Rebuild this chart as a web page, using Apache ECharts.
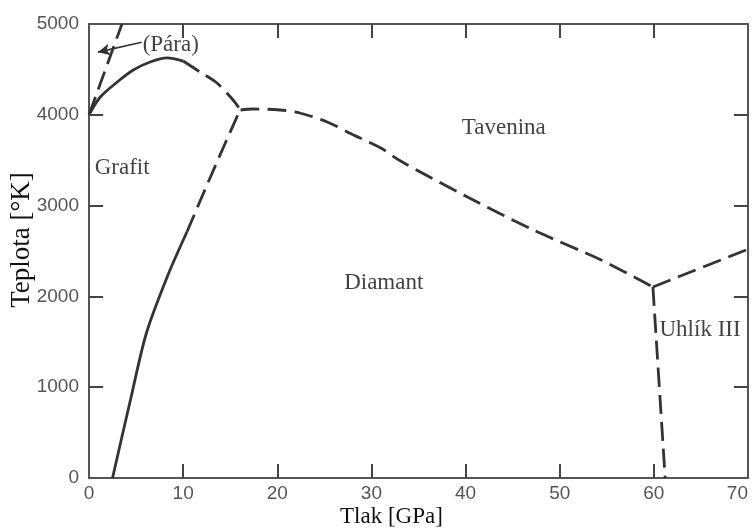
<!DOCTYPE html>
<html>
<head>
<meta charset="utf-8">
<script src="https://cdn.jsdelivr.net/npm/echarts@6/dist/echarts.min.js"></script>
<style>
  html, body { margin: 0; padding: 0; background: #fff; }
  #chart { width: 753px; height: 530px; }
</style>
</head>
<body>
<div id="chart"></div>
<script>
// Phase boundaries of carbon: [pressure GPa, temperature K]
const graphiteMeltSolid = [[0, 4000], [1.2, 4196], [3.0, 4361], [4.7, 4493], [6.5, 4581], [8.3, 4626], [10.0, 4592]];
const graphiteMeltDashed = [[10.0, 4592], [11.8, 4471], [13.6, 4350], [15.3, 4163], [16.1, 4053]];
const vaporBoundary = [[0, 4000], [3.5, 5000]];
const graphiteDiamondSolid = [[2.5, 0], [4.4, 859], [6.1, 1597], [8.3, 2214], [10.4, 2709]];
const graphiteDiamondDashed = [[10.4, 2709], [12.9, 3315], [15.9, 4020], [16.1, 4053]];
const diamondMelt = [[16.1, 4053], [17.4, 4064], [20.3, 4053], [22.4, 4020], [25.3, 3921], [28.1, 3778],
  [31.0, 3634], [33.1, 3491], [40.2, 3095], [47.2, 2731], [54.4, 2401], [59.9, 2104]];
const carbonIIIMelt = [[59.9, 2104], [70, 2520]];
const diamondCarbonIII = [[59.9, 2104], [61.2, 0]];

// Phase names and the point each one is anchored at (left edge, vertical centre)
const phaseNames = ['Grafit', 'Tavenina', 'Diamant', 'Uhlík III', '(Pára)'];
const phaseAnchors = [[0.6, 3420], [39.6, 3850], [27.1, 2150], [60.6, 1630], [5.7, 4770]];

// Arrow from the vapour label to its boundary
const vaporArrow = [[5.6, 4800], [0.95, 4690]];

// Axis ranges and the inner tick marks on all four sides of the frame
const xRange = [0, 70];
const yRange = [0, 5000];
const xTickValues = [10, 20, 30, 40, 50, 60];
const yTickValues = [1000, 2000, 3000, 4000];

const ink = '#333';
const frame = '#555';
const serif = '"Liberation Serif", "DejaVu Serif", serif';
const sans = '"Liberation Sans", Arial, sans-serif';
// inward tick length, in axis units (about 14 px each way)
const X_TICK = 1.5;
const Y_TICK = 155;

function boundary(data, dashed) {
  return {
    type: 'line',
    data: data,
    smooth: 0.3,
    showSymbol: false,
    symbol: 'none',
    silent: true,
    lineStyle: { color: ink, width: 2.8, type: dashed ? [19, 8] : 'solid' },
    z: 3
  };
}

// Tick segments pointing from each side of the frame into the plot
const annotationLines = [];
xTickValues.forEach(v => {
  annotationLines.push([{ coord: [v, yRange[0]] }, { coord: [v, yRange[0] + Y_TICK] }]);
  annotationLines.push([{ coord: [v, yRange[1]] }, { coord: [v, yRange[1] - Y_TICK] }]);
});
yTickValues.forEach(v => {
  annotationLines.push([{ coord: [xRange[0], v] }, { coord: [xRange[0] + X_TICK, v] }]);
  annotationLines.push([{ coord: [xRange[1], v] }, { coord: [xRange[1] - X_TICK, v] }]);
});
// the curved pointer next to "(Pára)"
annotationLines.push([
  { coord: vaporArrow[0], symbol: 'none', lineStyle: { color: ink, width: 1.6, curveness: -0.2 } },
  { coord: vaporArrow[1], symbol: 'arrow', symbolSize: [9, 12] }
]);

const chart = echarts.init(document.getElementById('chart'), null, { renderer: 'canvas' });
chart.setOption({
  animation: false,
  backgroundColor: '#fff',
  grid: { left: 89, right: 5, top: 24, bottom: 52, containLabel: false, outerBoundsMode: 'none', show: false },
  title: {
    text: 'Tlak [GPa]',
    left: 340,
    top: 505,
    padding: 0,
    textStyle: { fontFamily: serif, fontSize: 23, fontWeight: 'normal', color: '#111' }
  },
  xAxis: [{
    type: 'value', position: 'bottom',
    min: xRange[0], max: xRange[1], interval: 10,
    axisLine: { show: true, onZero: false, lineStyle: { color: frame, width: 2 } },
    axisTick: { show: false },
    axisLabel: { color: '#555', fontFamily: sans, fontSize: 19, margin: 6, alignMaxLabel: 'right' },
    splitLine: { show: false }
  }, {
    type: 'value', position: 'top',
    min: xRange[0], max: xRange[1], interval: 10,
    axisLine: { show: true, onZero: false, lineStyle: { color: frame, width: 2 } },
    axisTick: { show: false },
    axisLabel: { show: false },
    splitLine: { show: false }
  }],
  yAxis: [{
    type: 'value', position: 'left',
    min: yRange[0], max: yRange[1], interval: 1000,
    name: 'Teplota [°K]',
    nameLocation: 'middle',
    nameGap: 54,
    nameRotate: 90,
    nameMoveOverlap: false,
    nameTextStyle: { fontFamily: serif, fontSize: 27, color: '#111', padding: [0, 0, 0, 22] },
    axisLine: { show: true, onZero: false, lineStyle: { color: frame, width: 2 } },
    axisTick: { show: false },
    axisLabel: { color: '#555', fontFamily: sans, fontSize: 19, margin: 10, formatter: v => String(v) },
    splitLine: { show: false }
  }, {
    type: 'value', position: 'right',
    min: yRange[0], max: yRange[1], interval: 1000,
    axisLine: { show: true, onZero: false, lineStyle: { color: frame, width: 2 } },
    axisTick: { show: false },
    axisLabel: { show: false },
    splitLine: { show: false }
  }],
  series: [
    boundary(graphiteMeltSolid, false),
    boundary(graphiteMeltDashed, true),
    boundary(vaporBoundary, true),
    boundary(graphiteDiamondSolid, false),
    boundary(graphiteDiamondDashed, true),
    boundary(diamondMelt, true),
    boundary(carbonIIIMelt, true),
    boundary(diamondCarbonIII, true),
    // keeps the top and right frame axes bound to a series
    { type: 'line', xAxisIndex: 1, yAxisIndex: 1, data: [], silent: true, symbol: 'none' },
    {
      type: 'scatter',
      silent: true,
      clip: false,
      symbolSize: 0,
      data: phaseNames.map((n, i) => ({ name: n, value: phaseAnchors[i] })),
      label: {
        show: true,
        position: 'right',
        distance: 0,
        formatter: p => p.name,
        fontFamily: serif,
        fontSize: 23,
        color: '#111'
      },
      markLine: {
        silent: true,
        symbol: ['none', 'none'],
        label: { show: false },
        lineStyle: { color: '#444', width: 2, type: 'solid' },
        data: annotationLines
      },
      z: 5
    }
  ]
});
</script>
</body>
</html>
